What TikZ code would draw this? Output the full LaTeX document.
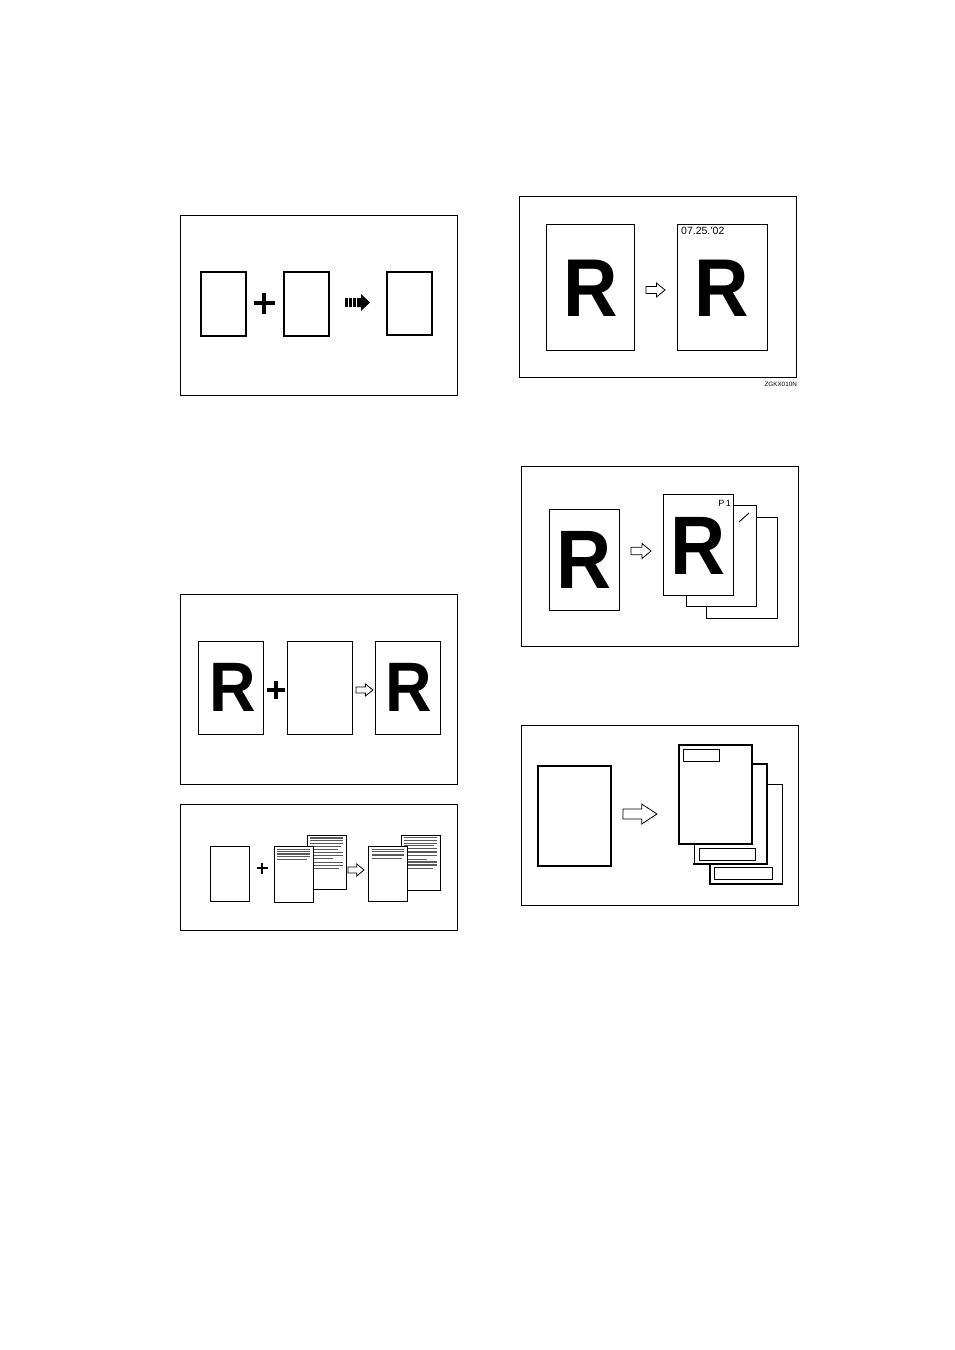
\documentclass[tikz,border=0pt]{standalone}
\usepackage{fontspec}
\setmainfont{Liberation Sans}
\begin{document}
\begin{tikzpicture}[x=1pt,y=-1pt,
  frame/.style={draw=black, line width=0.9pt},
  pg/.style={draw=black, fill=white, line width=0.9pt},
  pgthick/.style={draw=black, fill=white, line width=1.8pt},
  thk/.style={line width=2pt},
  thn/.style={line width=0.9pt},
  plus/.style={line width=#1, line cap=butt},
  ln/.style={draw=black!65, line width=0.8pt},
  lnb/.style={draw=black!65, line width=1.5pt},
  bigR/.style={font=\fontsize{#1}{#1}\selectfont\bfseries, inner sep=0pt, anchor=base},
  harrow/.pic={\draw[fill=white, line width=0.8pt] (0,-0.25)--(0.55,-0.25)--(0.55,-0.5)--(1,0)--(0.55,0.5)--(0.55,0.25)--(0,0.25)--cycle;}
]
\useasboundingbox (0,0) rectangle (954,1350);

% ---------- Panel 1 ----------
\draw[frame] (180.5,215.5) rectangle (457,395);
\draw[pg, line width=1.8pt] (201,272) rectangle (246,336);
\draw[pg, line width=1.8pt] (284,272) rectangle (329,336);
\draw[pg, line width=1.8pt] (387,272) rectangle (432,335);
\draw[plus=3.3pt] (253.5,303) -- (274.5,303);
\draw[plus=3.3pt] (264,292.5) -- (264,313.5);
\fill (345,298) rectangle (347.5,307);
\fill (349,298) rectangle (351.5,307);
\fill (353,298) rectangle (355.5,307);
\fill (357,298) -- (361,298) -- (361,294) -- (370,302.5) -- (361,311) -- (361,307) -- (357,307) -- cycle;

% ---------- Panel 2 ----------
\draw[frame] (519,196) rectangle (796,377);
\draw[pg] (546,224) rectangle (634,350);
\draw[pg] (677,224) rectangle (767,350);
\node[bigR=82] (r2a) at (591,316) {\scalebox{0.92}[1]{R}};
\node[bigR=82] (r2b) at (722,316) {\scalebox{0.92}[1]{R}};
\pic[xscale=19, yscale=14] at (646,290) {harrow};
\node[font=\fontsize{10.5}{10.5}\selectfont, inner sep=0pt, anchor=base west] (date) at (681,234) {07.25.'02};
\node[font=\fontsize{6.3}{6.3}\selectfont, inner sep=0pt, anchor=base east] (code) at (797,386) {ZGKX010N};

% ---------- Panel 3 ----------
\draw[frame] (521,466) rectangle (798,646);
\draw[pg] (549,509) rectangle (619,610);
\node[bigR=83] (r3a) at (584,588) {\scalebox{0.92}[1]{R}};
\pic[xscale=20, yscale=15] at (631,551) {harrow};
\draw[pg] (706,517) rectangle (777,618);
\draw[pg] (686,505) rectangle (756,606);
\draw[thn] (739,522) -- (749,513);
\draw[pg] (663,494) rectangle (733,595);
\node[bigR=83] (r3b) at (698,574) {\scalebox{0.92}[1]{R}};
\node[font=\fontsize{9}{9}\selectfont, inner sep=0pt, anchor=base east] (p1) at (731,506.5) {P\hspace{1.5pt}1};

% ---------- Panel 4 ----------
\draw[frame] (180.5,594.5) rectangle (457,784);
\draw[pg] (198,641) rectangle (263,734);
\draw[pg] (287,641) rectangle (352,734);
\draw[pg] (375,641) rectangle (440,734);
\node[bigR=70] (r4a) at (233,711) {\scalebox{0.92}[1]{R}};
\node[bigR=70] (r4b) at (409,711) {\scalebox{0.92}[1]{R}};
\draw[plus=4pt] (267,690) -- (285,690);
\draw[plus=4pt] (276,681) -- (276,699);
\pic[xscale=17, yscale=12] at (356,690) {harrow};

% ---------- Panel 5 ----------
\draw[frame] (180.5,804) rectangle (457,930);
\draw[pg] (210,846) rectangle (249,901);
\draw[plus=2.5pt] (256.5,868) -- (267.5,868);
\draw[plus=2.5pt] (262,862.5) -- (262,873.5);
% group 1 back
\draw[pg] (307,835) rectangle (346,889);
\draw[lnb] (310,838) -- (343,838);
\draw[lnb] (310,840.5) -- (343,840.5);
\draw[ln] (310,843.5) -- (343,843.5);
\draw[ln] (310,846.5) -- (341,846.5);
\draw[ln] (310,849.5) -- (338,849.5);
\draw[ln] (310,852) -- (343,852);
\draw[ln] (310,855.5) -- (343,855.5);
\draw[ln] (310,858.5) -- (333,858.5);
\draw[ln] (310,862.5) -- (343,862.5);
\draw[ln] (310,865.5) -- (343,865.5);
\draw[ln] (310,868.5) -- (339,868.5);
% group 1 front
\draw[pg] (274,846) rectangle (313,902);
\draw[ln] (277,849) -- (310,849);
\draw[lnb] (277,851.5) -- (310,851.5);
\draw[lnb] (277,854) -- (310,854);
\draw[lnb] (277,856.5) -- (310,856.5);
\draw[ln] (277,859.5) -- (307,859.5);
% arrow
\pic[xscale=16, yscale=12] at (348,870) {harrow};
% group 2 back
\draw[pg] (401,835) rectangle (440,890);
\draw[ln] (404,837.5) -- (437,837.5);
\draw[ln] (404,840.5) -- (437,840.5);
\draw[ln] (404,843) -- (437,843);
\draw[ln] (404,845.5) -- (434,845.5);
\draw[ln] (404,848.5) -- (437,848.5);
\draw[lnb] (404,852) -- (437,852);
\draw[ln] (404,855) -- (437,855);
\draw[ln] (404,859) -- (427,859);
\draw[lnb] (404,862) -- (437,862);
\draw[lnb] (404,865) -- (437,865);
\draw[ln] (404,868.5) -- (433,868.5);
% group 2 front
\draw[pg] (368,846) rectangle (407,901);
\draw[ln] (372,849) -- (404,849);
\draw[ln] (372,851.5) -- (404,851.5);
\draw[lnb] (372,855) -- (404,855);
\draw[lnb] (372,858.5) -- (402,858.5);

% ---------- Panel 6 ----------
\draw[frame] (521,725) rectangle (798,905);
\draw[pg, line width=1.3pt] (538,766) rectangle (611,866);
\draw[thk] (611,766) -- (611,866) -- (538,866);
\pic[xscale=34, yscale=20, line width=1pt] at (623,814) {harrow};
% third page
\draw[pg] (710,784) rectangle (782,884);
\draw[thk, line cap=rect] (710,784) -- (710,884) -- (782,884);
\draw[thn] (714,867) rectangle (772,879);
% second page
\draw[pg] (694,764) rectangle (767,864);
\draw[thk, line cap=rect] (694,764) -- (767,764) -- (767,864) -- (694,864);
\draw[thn] (699,848) rectangle (755,860);
% front page
\draw[pgthick] (679,745) rectangle (752,844);
\draw[thn] (683,749) rectangle (719,761);

\end{tikzpicture}
\end{document}
